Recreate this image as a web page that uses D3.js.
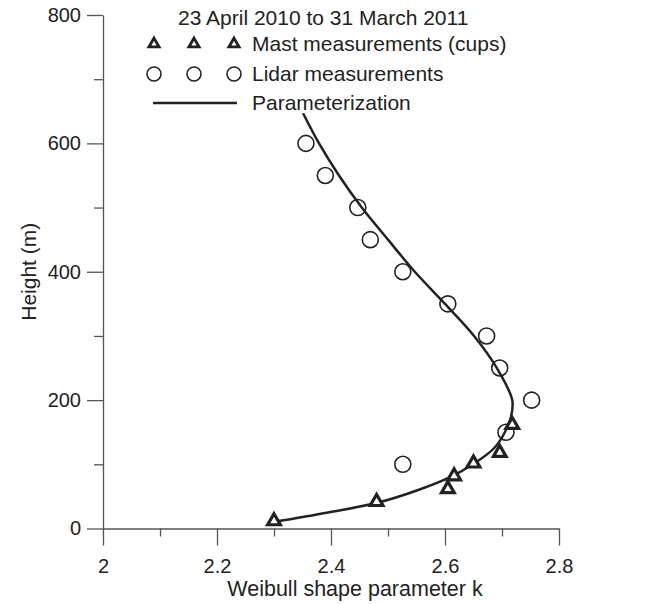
<!DOCTYPE html>
<html>
<head>
<meta charset="utf-8">
<script src="https://cdn.jsdelivr.net/npm/d3@7"></script>
<style>
  body { margin: 0; background: #fff; }
  svg text { font-family: "Liberation Sans", Arial, sans-serif; fill: #222; }
</style>
</head>
<body>
<svg width="647" height="604"></svg>
<script>
// mast (cup anemometer) heights and shape parameter
const mastHeight = [10, 40, 60, 80, 100, 116.5, 160];
const mastK = [2.30, 2.48, 2.605, 2.616, 2.65, 2.696, 2.718];

// lidar heights and shape parameter
const lidarHeight = [100, 150, 200, 250, 300, 350, 400, 450, 500, 550, 600];
const lidarK = [2.526, 2.707, 2.752, 2.696, 2.673, 2.605, 2.526, 2.469, 2.447, 2.39, 2.356];

// parameterized profile
const paramHeight = [10, 25, 40, 60, 80, 100, 125, 150, 175, 200, 250, 300, 350, 400, 450, 500, 550, 600, 647];
const paramK = [2.298, 2.395, 2.481, 2.553, 2.609, 2.649, 2.686, 2.705, 2.716, 2.718, 2.691, 2.651, 2.6, 2.547, 2.5, 2.454, 2.414, 2.379, 2.351];

const xMajor = [2, 2.2, 2.4, 2.6, 2.8];
const xMinor = [2.1, 2.3, 2.5, 2.7];
const yMajor = [0, 200, 400, 600, 800];
const yMinor = [100, 300, 500, 700];

const legendTitle = "23 April 2010 to 31 March 2011";
const legendLabels = ["Mast measurements (cups)", "Lidar measurements", "Parameterization"];

const svg = d3.select("svg");
const axisColor = "#555";
const ink = "#222";

const x = d3.scaleLinear().domain([2, 2.8]).range([103, 559]);
const y = d3.scaleLinear().domain([0, 800]).range([528.5, 15]);

// axes
function styleAxis(g) {
  g.selectAll("path, line").attr("stroke", axisColor).attr("stroke-width", 1.3);
  g.selectAll("text").attr("font-size", 20).attr("fill", ink);
}

svg.append("g").attr("transform", `translate(0,${y(0)})`)
  .call(d3.axisBottom(x).tickValues(xMinor).tickSize(8).tickSizeOuter(0).tickFormat(""))
  .call(styleAxis);
svg.append("g").attr("transform", `translate(0,${y(0)})`)
  .call(d3.axisBottom(x).tickValues(xMajor).tickSize(17).tickSizeOuter(0).tickPadding(13).tickFormat(d3.format("~g")))
  .call(styleAxis)
  .call(g => g.select(".domain").remove());

svg.append("g").attr("transform", `translate(${x(2)},0)`)
  .call(d3.axisLeft(y).tickValues(yMinor).tickSize(9).tickSizeOuter(0).tickFormat(""))
  .call(styleAxis);
svg.append("g").attr("transform", `translate(${x(2)},0)`)
  .call(d3.axisLeft(y).tickValues(yMajor).tickSize(16).tickSizeOuter(0).tickPadding(6))
  .call(styleAxis)
  .call(g => g.select(".domain").remove());

svg.append("text")
  .attr("x", 355).attr("y", 596)
  .attr("text-anchor", "middle").attr("font-size", 21.5)
  .text("Weibull shape parameter k");

svg.append("text")
  .attr("transform", `translate(36,${y(400)}) rotate(-90)`)
  .attr("text-anchor", "middle").attr("font-size", 21)
  .text("Height (m)");

// parameterization curve
const line = d3.line()
  .x(d => x(d[0])).y(d => y(d[1]))
  .curve(d3.curveCatmullRom.alpha(0.5));
svg.append("path")
  .datum(paramK.map((k, i) => [k, paramHeight[i]]))
  .attr("d", line)
  .attr("fill", "none").attr("stroke", ink).attr("stroke-width", 2.5);

// markers
const tri = d3.symbol().type(d3.symbolTriangle).size(70);

svg.append("g").selectAll("circle")
  .data(lidarK.map((k, i) => [k, lidarHeight[i]]))
  .join("circle")
  .attr("cx", d => x(d[0])).attr("cy", d => y(d[1])).attr("r", 8)
  .attr("fill", "none").attr("stroke", ink).attr("stroke-width", 1.6);

svg.append("g").selectAll("path")
  .data(mastK.map((k, i) => [k, mastHeight[i]]))
  .join("path")
  .attr("d", tri)
  .attr("transform", d => `translate(${x(d[0])},${y(d[1]) - 1})`)
  .attr("fill", "#fff").attr("stroke", ink).attr("stroke-width", 3.2);

// legend
const leg = svg.append("g");
leg.append("text").attr("x", 178).attr("y", 25)
  .attr("font-size", 21).text(legendTitle);

const legX = [154, 194, 234];
const rowY = [44, 74, 103];
leg.selectAll(".ltri").data(legX).join("path")
  .attr("d", d3.symbol().type(d3.symbolTriangle).size(45))
  .attr("transform", d => `translate(${d},${rowY[0]})`)
  .attr("fill", "#fff").attr("stroke", ink).attr("stroke-width", 2.8);
leg.selectAll(".lcirc").data(legX).join("circle")
  .attr("cx", d => d).attr("cy", rowY[1]).attr("r", 7)
  .attr("fill", "none").attr("stroke", ink).attr("stroke-width", 1.6);
leg.append("line").attr("x1", 153).attr("x2", 237)
  .attr("y1", rowY[2]).attr("y2", rowY[2])
  .attr("stroke", ink).attr("stroke-width", 2.5);
leg.selectAll(".ltext").data(legendLabels).join("text")
  .attr("x", 252).attr("y", (d, i) => rowY[i] + 7)
  .attr("font-size", 21).text(d => d);
</script>
</body>
</html>
